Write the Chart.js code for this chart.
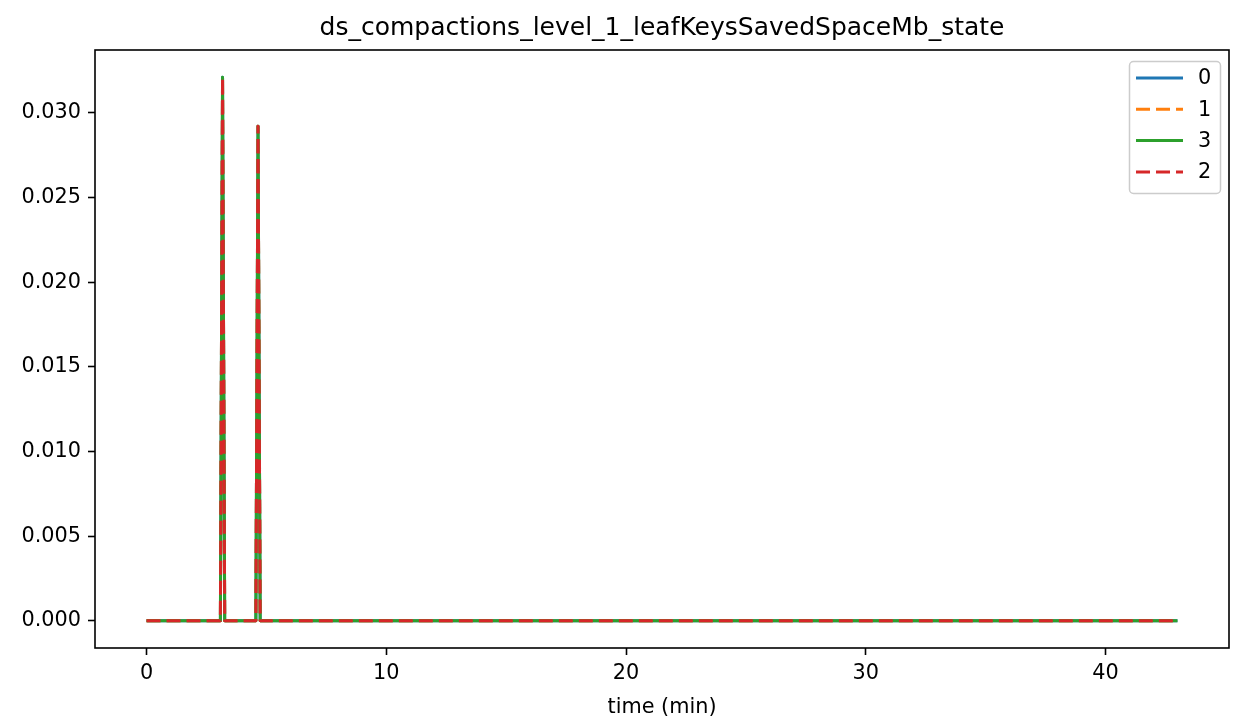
<!DOCTYPE html>
<html>
<head>
<meta charset="utf-8">
<script src="https://cdn.jsdelivr.net/npm/chart.js@4/dist/chart.umd.min.js"></script>
<style>
html,body{margin:0;padding:0;background:#fff;}
#wrap{width:1233px;height:721px;}
</style>
</head>
<body>
<div id="wrap"><canvas id="c" width="1233" height="721"></canvas></div>
<script>
const chartTitle = "ds_compactions_level_1_leafKeysSavedSpaceMb_state";
const xTitle = "time (min)";
const times = [0, 3.08, 3.17, 3.26, 4.56, 4.65, 4.74, 43];
const series0 = [0, 0, 0.0321, 0, 0, 0.0292, 0, 0];
const series1 = [0, 0, 0.0321, 0, 0, 0.0292, 0, 0];
const series3 = [0, 0, 0.0321, 0, 0, 0.0292, 0, 0];
const series2 = [0, 0, 0.0321, 0, 0, 0.0292, 0, 0];
const xTicks = [0, 10, 20, 30, 40];
const yTicks = [0, 0.005, 0.010, 0.015, 0.020, 0.025, 0.030];
const seriesNames = ["0", "1", "3", "2"];
const colors = ["#1f77b4", "#ff7f0e", "#2ca02c", "#d62728"];
const dashes = [[], [14, 6], [], [14, 6]];
const allSeries = [series0, series1, series3, series2];

const FONT = "'DejaVu Sans', sans-serif";
const TICK_FONT = 20.8;
const TITLE_FONT = 25;

const datasets = allSeries.map((s, i) => ({
  label: seriesNames[i],
  data: times.map((t, j) => ({x: t, y: s[j]})),
  borderColor: colors[i],
  backgroundColor: colors[i],
  borderWidth: 3,
  borderDash: dashes[i],
  pointRadius: 0,
  tension: 0,
  fill: false,
  order: allSeries.length - 1 - i,
  borderCapStyle: 'butt',
  borderJoinStyle: 'round'
}));

const frame = {
  id: 'frame',
  afterDatasetsDraw(chart) {
    const {ctx, chartArea: a} = chart;
    ctx.save();
    ctx.strokeStyle = '#000';
    ctx.lineWidth = 1.6;
    ctx.strokeRect(a.left, a.top, a.right - a.left, a.bottom - a.top);
    // title centred over the axes
    ctx.fillStyle = '#000';
    ctx.font = TITLE_FONT + "px " + FONT;
    ctx.textAlign = 'center';
    ctx.textBaseline = 'middle';
    ctx.fillText(chartTitle, (a.left + a.right) / 2, a.top - 22);
    // legend
    const lx = a.right - 100, ly = a.top + 11, lw = 91, lh = 132;
    ctx.fillStyle = 'rgba(255,255,255,0.8)';
    ctx.strokeStyle = '#cccccc';
    ctx.lineWidth = 1.5;
    ctx.beginPath();
    if (ctx.roundRect) ctx.roundRect(lx + 0.5, ly + 0.5, lw, lh, 4); else ctx.rect(lx + 0.5, ly + 0.5, lw, lh);
    ctx.fill(); ctx.stroke();
    ctx.font = TICK_FONT + "px " + FONT;
    ctx.textBaseline = 'middle';
    ctx.textAlign = 'left';
    chart.data.datasets.forEach((d, i) => {
      const y = ly + 17 + i * 31.3;
      ctx.strokeStyle = d.borderColor;
      ctx.lineWidth = 3;
      ctx.setLineDash(d.borderDash.length ? [14, 6] : []);
      ctx.beginPath();
      ctx.moveTo(lx + 7, y);
      ctx.lineTo(lx + 54, y);
      ctx.stroke();
      ctx.setLineDash([]);
      ctx.fillStyle = '#000';
      ctx.fillText(d.label, lx + 69, y + 1);
    });
    ctx.restore();
  }
};

new Chart(document.getElementById('c'), {
  type: 'line',
  data: {datasets},
  options: {
    responsive: false,
    animation: false,
    devicePixelRatio: 1,
    layout: {padding: {left: 0, right: 4, top: 50, bottom: 0}},
    plugins: {
      legend: {display: false},
      tooltip: {enabled: false},
      title: {display: false}
    },
    scales: {
      x: {
        type: 'linear',
        min: -2.15,
        max: 45.15,
        afterBuildTicks: s => { s.ticks = xTicks.map(v => ({value: v})); },
        afterFit: s => { s.height = 73; },
        grid: {display: true, drawOnChartArea: false, drawTicks: true, tickLength: 7, color: '#000', tickWidth: 1.6},
        border: {display: false},
        ticks: {color: '#000', font: {family: FONT, size: TICK_FONT}, padding: 6, maxRotation: 0, callback: v => String(v)},
        title: {display: true, text: xTitle, color: '#000', font: {family: FONT, size: TICK_FONT}, padding: {top: 4, bottom: 1}}
      },
      y: {
        type: 'linear',
        min: -0.001605,
        max: 0.033705,
        afterBuildTicks: s => { s.ticks = yTicks.map(v => ({value: v})); },
        afterFit: s => { s.width = 95; },
        grid: {display: true, drawOnChartArea: false, drawTicks: true, tickLength: 7, color: '#000', tickWidth: 1.6},
        border: {display: false},
        ticks: {color: '#000', font: {family: FONT, size: TICK_FONT}, padding: 7, callback: v => Number(v).toFixed(3)}
      }
    }
  },
  plugins: [frame]
});
</script>
</body>
</html>
